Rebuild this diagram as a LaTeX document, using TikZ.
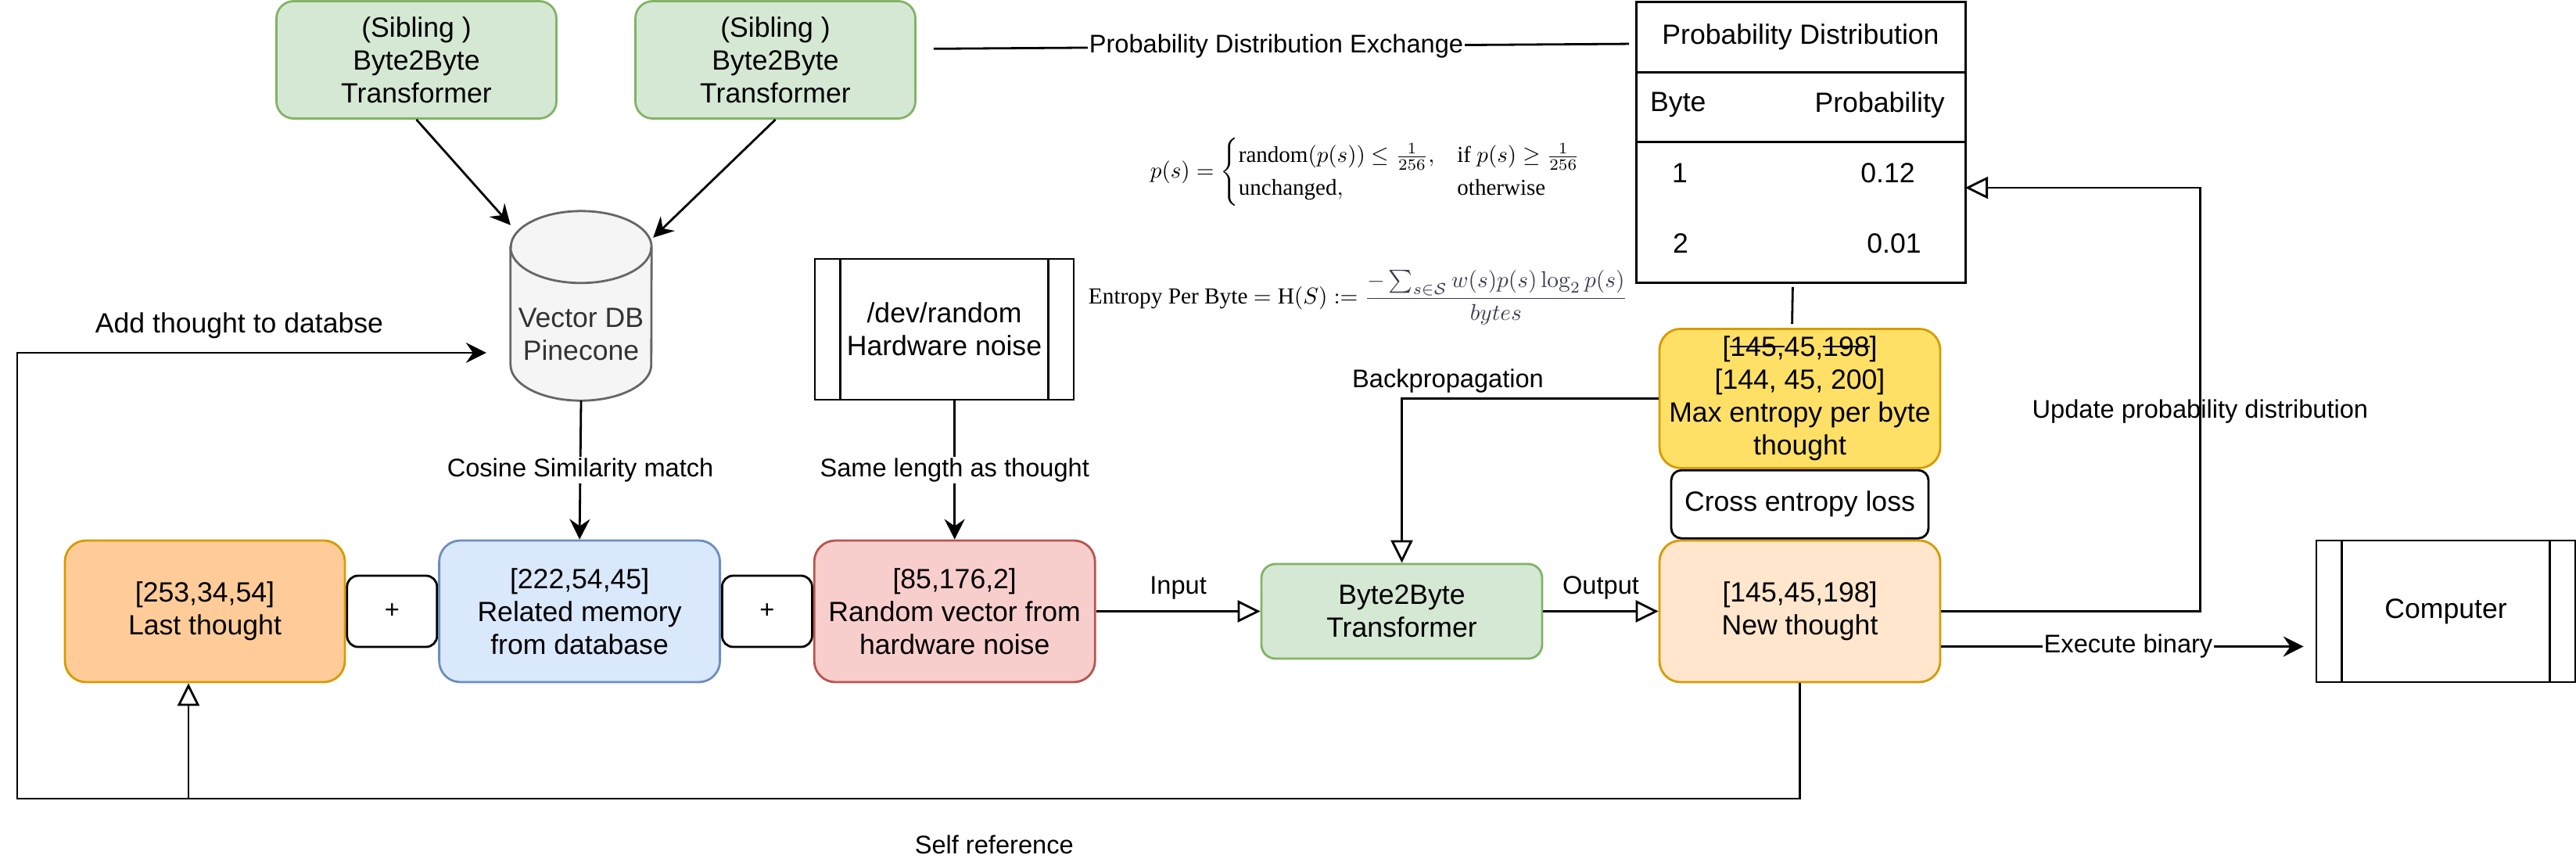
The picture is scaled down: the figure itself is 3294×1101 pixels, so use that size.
\documentclass[tikz,border=0pt]{standalone}
\usepackage{amsmath,amssymb}
\usepackage{graphicx}
\usepackage[no-math]{fontspec}
\setmainfont{Liberation Sans}
\newfontfamily\formulafont{Liberation Serif}
\usetikzlibrary{arrows.meta,positioning,calc}

\definecolor{sibfill}{HTML}{D5E8D4}
\definecolor{sibline}{HTML}{82B366}
\definecolor{lastfill}{HTML}{FFCC99}
\definecolor{lastline}{HTML}{D79B00}
\definecolor{memfill}{HTML}{DAE8FC}
\definecolor{memline}{HTML}{6C8EBF}
\definecolor{rvfill}{HTML}{F8CECC}
\definecolor{rvline}{HTML}{B85450}
\definecolor{newfill}{HTML}{FFE6CC}
\definecolor{maxfill}{HTML}{FFE066}
\definecolor{dbfill}{HTML}{F5F5F5}
\definecolor{dbline}{HTML}{666666}
\definecolor{dbtext}{HTML}{333333}
\definecolor{fracgray}{HTML}{3A3A52}

\newcommand{\boxfont}{\fontsize{35.6}{42}\selectfont}
\newcommand{\edgefont}{\fontsize{32.6}{39}\selectfont}
\newsavebox{\strikebox}
\newcommand{\strikeout}[1]{\sbox{\strikebox}{#1}%
  \rlap{\rule[0.33em]{\wd\strikebox}{2.2pt}}\usebox{\strikebox}}

\begin{document}
\begin{tikzpicture}[
    x=1pt, y=-1pt,
    node distance=0pt,
    box/.style={draw, line width=2.8pt, rounded corners=27pt, align=center,
                minimum width=359pt, minimum height=181pt, inner sep=4pt,
                font=\boxfont},
    proc/.style={draw, line width=2.8pt, align=center, minimum width=331pt,
                 minimum height=181pt, font=\boxfont},
    tbl/.style={draw, line width=3pt, outer sep=0pt, minimum width=421pt,
                font=\boxfont},
    cell/.style={font=\boxfont, inner sep=0pt},
    conn/.style={line width=2.8pt},
    elabel/.style={font=\edgefont, inner sep=2pt},
    >={Stealth[length=26pt,width=26pt,inset=9pt]},
    hollow/.style={-{Triangle[fill=white,length=29pt,width=28pt]}}]
  \useasboundingbox (0,0) rectangle (3294,1101);

  % siblings and vector store
  \node[box, fill=sibfill, draw=sibline, minimum width=358pt,
        minimum height=150pt, rounded corners=22pt] (sib1) at (532.5,76.5)
        {(Sibling )\\Byte2Byte\\Transformer};
  \node[box, fill=sibfill, draw=sibline, minimum width=358pt,
        minimum height=150pt, rounded corners=22pt] (sib2) at (991.5,76.5)
        {(Sibling )\\Byte2Byte\\Transformer};

  \node[minimum width=180pt, minimum height=242pt, inner sep=0pt] (db)
        at (743,391) {};
  \draw[line width=2.8pt, draw=dbline, fill=dbfill]
        ([yshift=-46pt]db.north west) -- ([yshift=46pt]db.south west)
        arc[start angle=180, end angle=360, x radius=90pt, y radius=46pt]
        -- ([yshift=-46pt]db.north east)
        arc[start angle=0, end angle=180, x radius=90pt, y radius=46pt]
        -- cycle;
  \draw[line width=2.8pt, draw=dbline] ([yshift=-46pt]db.north west)
        arc[start angle=180, end angle=360, x radius=90pt, y radius=46pt];
  \node[font=\boxfont, text=dbtext, align=center] (dblabel) at (743,427)
        {Vector DB\\Pinecone};

  \node[proc, minimum height=180pt] (dev) at (1207.5,421)
        {/dev/random\\Hardware noise};
  \draw[line width=2.8pt] ([xshift=34pt]dev.north west) -- ([xshift=34pt]dev.south west)
        ([xshift=-34pt]dev.north east) -- ([xshift=-34pt]dev.south east);

  % formulas
  \node[inner sep=0pt, font=\formulafont] (psform) at (1747,220)
        {\resizebox{552pt}{!}{$p(s)=\begin{cases}
          \text{random}(p(s))\le\frac{1}{256}, & \text{if } p(s)\ge\frac{1}{256}\\
          \text{unchanged}, & \text{otherwise}\end{cases}$}};
  \node[inner sep=0pt, font=\formulafont] (entform) at (1736.5,380)
        {\resizebox{689pt}{!}{Entropy Per Byte $=\text{H}(S):=
          {\color{fracgray}\dfrac{-\sum_{s\in\mathcal{S}} w(s)p(s)\log_2 p(s)}{bytes}}$}};

  % probability table
  \node[tbl, minimum height=90pt] (pdtitle) at (2302.5,47) {Probability Distribution};
  \node[tbl, minimum height=89pt, below=of pdtitle] (pdhead) {};
  \node[tbl, minimum height=180pt, below=of pdhead] (pdbody) {};
  \node[cell, anchor=west] (cbyte) at (2110,134) {Byte};
  \node[cell, anchor=east] (cprob) at (2487,134) {Probability};
  \node[cell] (crow1) at (2148,221) {1};
  \node[cell] (cval1) at (2414,221) {0.12};
  \node[cell] (crow2) at (2149,311) {2};
  \node[cell] (cval2) at (2422,311) {0.01};

  % main row
  \node[box, fill=lastfill, draw=lastline, minimum width=358pt] (last)
        at (262,781.5) {[253,34,54]\\Last thought};
  \node[box, fill=white, minimum width=115pt, minimum height=91pt,
        rounded corners=14pt, font=\edgefont, right=of last] (plus1) {+};
  \node[box, fill=memfill, draw=memline, right=of plus1] (mem)
        {[222,54,45]\\Related memory\\from database};
  \node[box, fill=white, minimum width=115pt, minimum height=91pt,
        rounded corners=14pt, font=\edgefont, right=of mem] (plus2) {+};
  \node[box, fill=rvfill, draw=rvline, right=of plus2] (rv)
        {[85,176,2]\\Random vector from\\hardware noise};
  \node[box, fill=sibfill, draw=sibline, minimum height=121pt,
        rounded corners=18pt] (b2b) at (1792.5,781.5) {Byte2Byte\\Transformer};
  \node[box, fill=newfill, draw=lastline] (newt) at (2301.5,781.5)
        {[145,45,198]\\New thought};
  \node[box, fill=white, minimum width=329pt, minimum height=87pt,
        rounded corners=13pt, above=of newt] (cel) {Cross entropy loss};
  \node[box, fill=maxfill, draw=lastline, minimum height=178pt, above=of cel]
        (maxt) {[\strikeout{145,}45,\strikeout{198}]\\{[}144, 45, 200]\\Max entropy per byte\\thought};
  \node[proc] (comp) at (3127.5,781.5) {Computer};
  \draw[line width=2.8pt] ([xshift=34pt]comp.north west) -- ([xshift=34pt]comp.south west)
        ([xshift=-34pt]comp.north east) -- ([xshift=-34pt]comp.south east);

  \node[font=\boxfont] (addlbl) at (306,416) {Add thought to databse};

  % connectors
  \draw[conn,->] (sib1.south) -- ([yshift=-18pt]db.north west);
  \draw[conn,->] (sib2.south) -- ([xshift=2pt,yshift=-34pt]db.north east);
  \draw[conn, shorten <=22pt, shorten >=9pt] ([yshift=14pt]sib2.east)
        -- node[elabel, fill=white] (lbex) {Probability Distribution Exchange}
        ([yshift=-9pt]pdtitle.west);
  \draw[conn,->] (db.south) -- node[elabel, fill=white] (lbcos)
        {Cosine Similarity match} (mem.north);
  \draw[conn,->] (dev.south -| rv.north) -- node[elabel, fill=white] (lbsame)
        {Same length as thought} (rv.north);
  \draw[conn,hollow] (rv.east) -- node[elabel, yshift=30pt] (lbin) {Input} (b2b.west);
  \draw[conn,hollow] (b2b.east) -- node[elabel, yshift=30pt] (lbout) {Output} (newt.west);
  \draw[conn,hollow] (maxt.west) -| node[elabel, pos=0.41, yshift=22pt] (lbback)
        {Backpropagation} (b2b.north);
  \draw[conn, shorten <=6pt, shorten >=5pt] ([xshift=-10pt]pdbody.south)
        -- ([xshift=-10pt]maxt.north);
  \draw[conn,hollow] (newt.east) -- ++(331,0) |- node[elabel, pos=0.236] (lbupd)
        {Update probability distribution} ([yshift=31pt]pdbody.east);
  \draw[conn,->, shorten >=15pt] ([yshift=-45pt]newt.east)
        -- node[elabel, fill=white] (lbexec) {Execute binary} ([yshift=-45pt]comp.west);

  \coordinate (selfc) at (241,1021);
  \coordinate (loopc) at (22,1021);
  \draw[conn,->] (newt.south) |- (loopc) |- ([xshift=-31pt,yshift=-60pt]db.west);
  \draw[conn,hollow] (newt.south) |- node[elabel, pos=0.75, yshift=-59pt] (lbself)
        {Self reference} (selfc) -- (selfc |- last.south);
\end{tikzpicture}
\end{document}
